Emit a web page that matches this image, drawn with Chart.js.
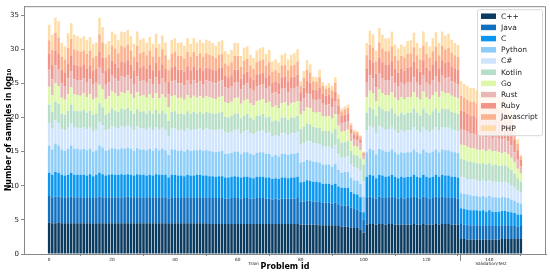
<!DOCTYPE html>
<html>
<head>
<meta charset="utf-8">
<title>Samples per problem</title>
<script src="https://cdn.jsdelivr.net/npm/chart.js@4.4.1/dist/chart.umd.min.js"></script>
<style>
  html, body { margin: 0; padding: 0; background: #fff; }
  #chart { display: block; }
</style>
</head>
<body>
<canvas id="chart" width="550" height="275"></canvas>
<script>
// log10 sample counts per language, one value per problem id (0..150)
const cpp = [
  4.6,4.5,4.5,4.6,4.5,4.5,4.5,4.5,4.5,4.5, 4.5,4.5,4.5,4.5,4.4,4.5,4.5,4.5,4.5,4.5,
  4.5,4.5,4.5,4.5,4.5,4.5,4.5,4.5,4.5,4.5, 4.5,4.5,4.5,4.5,4.5,4.5,4.5,4.5,4.4,4.5,
  4.5,4.5,4.5,4.5,4.5,4.5,4.5,4.5,4.5,4.5, 4.5,4.4,4.4,4.4,4.4,4.4,4.4,4.4,4.4,4.4,
  4.4,4.4,4.4,4.4,4.4,4.4,4.4,4.4,4.4,4.4, 4.4,4.4,4.4,4.4,4.4,4.4,4.4,4.4,4.4,4.4,
  4.3,4.3,4.3,4.3,4.3,4.3,4.2,4.2,4.2,4.2, 4.2,4.2,4.1,4.0,4.0,4.0,3.9,3.8,3.8,3.6,
  3.1,4.3,4.4,4.4,4.3,4.4,4.4,4.3,4.4,4.4, 4.3,4.3,4.3,4.3,4.3,4.3,4.4,4.3,4.3,4.4,
  4.3,4.3,4.3,4.4,4.3,4.4,4.4,4.4,4.3,4.3, 4.3,2.2,2.2,2.1,2.1,2.1,2.1,2.1,2.1,2.1,
  2.1,2.1,2.1,2.1,2.2,2.2,2.2,2.2,2.2,2.2,2.3
];
const java = [
  3.9,3.8,3.9,3.8,3.8,3.8,3.8,3.9,3.8,3.8, 3.8,3.8,3.7,3.8,3.8,3.8,3.9,3.8,3.8,3.8,
  3.8,3.8,3.8,3.8,3.8,3.9,3.8,3.8,3.8,3.8, 3.8,3.7,3.8,3.8,3.8,3.8,3.8,3.8,3.7,3.8,
  3.8,3.7,3.8,3.7,3.8,3.8,3.7,3.8,3.8,3.8, 3.8,3.8,3.8,3.8,3.8,3.8,3.7,3.7,3.8,3.8,
  3.8,3.7,3.8,3.8,3.7,3.7,3.8,3.8,3.8,3.7, 3.7,3.6,3.7,3.6,3.7,3.7,3.7,3.7,3.7,3.8,
  3.4,3.4,3.5,3.5,3.4,3.4,3.4,3.3,3.3,3.3, 3.2,3.3,3.2,3.1,3.1,3.1,2.9,2.8,2.7,2.6,
  1.9,3.9,4.0,3.9,3.8,4.0,3.9,3.9,3.9,4.0, 3.9,3.8,3.9,3.8,3.9,3.9,4.0,3.9,3.8,4.0,
  3.9,3.8,3.9,4.0,3.9,4.0,3.9,3.9,3.9,3.9, 3.8,2.2,2.1,2.1,2.1,2.1,2.1,2.0,2.1,2.0,
  2.1,2.0,2.0,2.0,2.0,2.0,2.0,1.9,1.9,1.8,1.8
];
const cLang = [
  3.4,3.3,3.6,3.5,3.3,3.2,3.3,3.5,3.3,3.3, 3.3,3.3,3.3,3.4,3.2,3.3,3.5,3.4,3.2,3.3,
  3.4,3.3,3.3,3.4,3.3,3.3,3.3,3.2,3.4,3.3, 3.3,3.3,3.3,3.2,3.4,3.3,3.3,3.3,3.1,3.3,
  3.3,3.3,3.2,3.2,3.3,3.2,3.3,3.3,3.3,3.2, 3.2,3.2,3.2,3.1,3.2,3.2,3.1,3.1,3.1,3.2,
  3.1,3.1,3.1,3.1,3.1,3.0,3.1,3.1,3.1,3.1, 3.1,3.0,3.0,3.0,3.1,3.1,3.0,3.1,3.1,3.1,
  2.8,2.9,3.0,2.9,2.9,2.9,2.9,2.8,2.8,2.8, 2.7,2.8,2.6,2.6,2.6,2.6,2.3,2.2,2.2,2.1,
  1.1,3.1,3.2,3.2,3.0,3.2,3.2,3.1,3.1,3.2, 3.1,3.0,3.1,3.1,3.1,3.1,3.2,3.1,3.1,3.2,
  3.1,3.1,3.1,3.2,3.1,3.2,3.2,3.2,3.1,3.1, 3.1,2.3,2.3,2.3,2.2,2.2,2.2,2.2,2.2,2.1,
  2.2,2.1,2.1,2.1,2.1,2.1,2.0,2.0,1.9,1.8,1.7
];
const python = [
  4.0,3.7,4.2,4.0,3.7,3.6,3.8,4.0,3.8,3.8, 3.7,3.8,3.7,3.7,3.6,3.6,4.0,3.9,3.6,3.7,
  3.8,3.8,3.7,3.8,3.8,3.9,3.8,3.6,3.8,3.7, 3.7,3.7,3.8,3.6,3.8,3.6,3.8,3.6,3.3,3.7,
  3.7,3.6,3.7,3.6,3.7,3.6,3.7,3.6,3.7,3.6, 3.7,3.7,3.6,3.6,3.6,3.7,3.5,3.5,3.5,3.6,
  3.7,3.4,3.6,3.6,3.5,3.4,3.5,3.6,3.6,3.5, 3.5,3.3,3.4,3.3,3.5,3.5,3.4,3.5,3.5,3.5,
  2.9,2.9,3.0,3.0,2.9,2.9,2.9,2.8,2.8,2.8, 2.7,2.9,2.4,2.2,2.3,2.3,2.1,2.0,2.0,2.0,
  2.3,3.6,3.8,3.7,3.5,3.8,3.7,3.7,3.6,3.7, 3.6,3.5,3.6,3.6,3.6,3.6,3.7,3.6,3.5,3.7,
  3.6,3.6,3.7,3.7,3.6,3.7,3.7,3.7,3.7,3.6, 3.6,2.2,2.2,2.2,2.2,2.1,2.1,2.1,2.1,2.1,
  2.1,2.1,2.1,2.0,2.0,2.0,2.0,1.9,1.8,1.7,1.6
];
const csharp = [
  3.3,3.1,3.4,3.3,3.0,3.0,3.1,3.3,3.1,3.1, 3.1,3.2,3.1,3.1,3.0,3.0,3.4,3.3,3.0,3.0,
  3.2,3.1,3.1,3.2,3.2,3.2,3.1,3.0,3.2,3.1, 3.1,3.0,3.1,3.0,3.1,3.0,3.1,3.0,2.8,3.1,
  3.1,3.0,3.0,3.0,3.1,3.0,3.1,3.0,3.1,3.0, 3.2,3.2,3.2,3.2,3.2,3.2,3.1,3.0,3.1,3.2,
  3.2,3.0,3.1,3.2,3.0,3.0,3.1,3.1,3.2,3.0, 3.1,2.9,2.9,2.9,3.0,3.0,2.9,3.0,3.0,3.1,
  2.6,2.7,2.8,2.8,2.7,2.7,2.7,2.6,2.6,2.6, 2.6,2.7,2.3,2.2,2.2,2.3,2.0,1.9,1.9,1.9,
  2.3,3.2,3.3,3.3,3.1,3.4,3.3,3.2,3.3,3.3, 3.2,3.1,3.2,3.1,3.2,3.2,3.3,3.2,3.1,3.3,
  3.2,3.1,3.2,3.3,3.2,3.3,3.3,3.3,3.2,3.2, 3.2,2.4,2.4,2.3,2.3,2.4,2.3,2.3,2.3,2.3,
  2.3,2.3,2.3,2.3,2.2,2.3,2.2,2.1,2.0,1.8,1.6
];
const kotlin = [
  2.7,2.4,2.7,2.8,2.3,2.3,2.5,2.7,2.5,2.4, 2.5,2.5,2.4,2.5,2.4,2.4,2.8,2.6,2.3,2.4,
  2.6,2.5,2.4,2.6,2.5,2.6,2.5,2.4,2.5,2.4, 2.5,2.4,2.5,2.4,2.5,2.4,2.5,2.4,2.2,2.4,
  2.5,2.4,2.4,2.4,2.5,2.4,2.5,2.4,2.4,2.4, 2.4,2.4,2.4,2.4,2.5,2.5,2.3,2.3,2.3,2.4,
  2.4,2.3,2.3,2.4,2.3,2.2,2.3,2.3,2.4,2.3, 2.3,2.2,2.2,2.2,2.3,2.3,2.2,2.3,2.3,2.3,
  2.3,2.4,2.5,2.5,2.4,2.3,2.4,2.3,2.3,2.3, 2.3,2.4,2.3,2.2,2.2,2.2,1.9,1.8,1.8,1.8,
  2.4,2.6,2.8,2.7,2.5,2.8,2.7,2.7,2.6,2.7, 2.5,2.5,2.6,2.5,2.6,2.6,2.7,2.6,2.5,2.7,
  2.6,2.5,2.7,2.7,2.6,2.7,2.7,2.7,2.6,2.6, 2.5,2.6,2.6,2.6,2.6,2.5,2.5,2.5,2.5,2.5,
  2.5,2.4,2.5,2.4,2.4,2.4,2.3,2.2,2.0,1.8,1.6
];
const go = [
  2.6,2.5,2.7,2.6,2.3,2.2,2.4,2.5,2.4,2.4, 2.3,2.4,2.3,2.4,2.3,2.3,2.7,2.6,2.3,2.4,
  2.5,2.5,2.3,2.4,2.5,2.5,2.4,2.3,2.5,2.3, 2.4,2.3,2.4,2.3,2.5,2.2,2.4,2.3,2.0,2.3,
  2.4,2.3,2.3,2.2,2.4,2.3,2.4,2.3,2.3,2.3, 2.3,2.3,2.2,2.2,2.3,2.3,2.1,2.1,2.1,2.2,
  2.3,2.1,2.2,2.2,2.1,2.1,2.2,2.2,2.2,2.1, 2.2,2.1,2.1,2.0,2.1,2.2,2.1,2.1,2.2,2.2,
  2.2,2.3,2.4,2.4,2.2,2.2,2.3,2.2,2.1,2.2, 2.1,2.2,1.9,1.6,1.6,1.7,1.4,1.3,1.3,1.2,
  0.8,2.3,2.4,2.4,2.2,2.5,2.4,2.4,2.4,2.4, 2.3,2.3,2.3,2.3,2.3,2.3,2.4,2.3,2.3,2.5,
  2.3,2.3,2.4,2.4,2.3,2.5,2.4,2.4,2.4,2.3, 2.3,2.1,2.1,2.1,2.0,2.1,2.0,2.0,2.0,2.0,
  2.0,2.0,2.0,2.0,1.9,1.9,1.9,1.8,1.6,1.4,1.2
];
const rust = [
  2.5,2.3,2.6,2.4,2.1,2.0,2.3,2.4,2.2,2.2, 2.2,2.2,2.1,2.2,2.1,2.2,2.5,2.4,2.1,2.1,
  2.3,2.3,2.2,2.3,2.3,2.3,2.2,2.1,2.3,2.2, 2.2,2.2,2.2,2.1,2.3,2.1,2.3,2.2,1.9,2.2,
  2.2,2.2,2.1,2.1,2.2,2.1,2.3,2.1,2.2,2.1, 2.3,2.3,2.3,2.3,2.3,2.3,2.2,2.1,2.2,2.3,
  2.3,2.1,2.2,2.3,2.1,2.1,2.2,2.2,2.2,2.1, 2.2,2.0,2.0,2.0,2.1,2.1,2.0,2.1,2.1,2.2,
  1.8,1.9,2.1,2.0,1.8,1.8,1.9,1.8,1.7,1.7, 1.7,1.8,1.6,1.3,1.3,1.3,1.1,1.0,1.0,1.0,
  0.5,2.1,2.3,2.2,2.0,2.3,2.2,2.2,2.2,2.3, 2.1,2.1,2.1,2.1,2.1,2.2,2.2,2.1,2.1,2.3,
  2.1,2.1,2.2,2.3,2.1,2.3,2.2,2.3,2.1,2.1, 2.1,2.2,2.2,2.2,2.1,2.1,2.1,2.1,2.1,2.0,
  2.1,2.0,2.0,2.0,2.0,2.0,1.9,1.8,1.5,1.3,1.0
];
const ruby = [
  2.3,2.1,2.2,2.3,2.0,1.9,2.2,2.3,2.1,2.1, 2.0,2.0,2.1,2.0,2.0,2.0,2.4,2.2,2.0,2.0,
  2.2,2.1,2.0,2.2,2.2,2.2,2.1,2.0,2.2,2.0, 2.0,2.0,2.1,2.0,2.1,2.0,2.1,2.0,1.8,2.0,
  2.0,2.0,2.0,2.0,2.0,2.0,2.0,2.0,2.0,2.0, 1.9,1.9,1.9,1.8,1.9,1.9,1.7,1.7,1.7,1.9,
  1.8,1.6,1.7,1.7,1.7,1.6,1.7,1.7,1.7,1.7, 1.7,1.6,1.6,1.6,1.7,1.7,1.6,1.7,1.7,1.7,
  1.4,1.6,1.8,1.7,1.5,1.5,1.7,1.5,1.4,1.4, 1.4,1.5,1.3,1.0,1.1,1.1,0.8,0.7,0.7,0.6,
  0.3,2.1,2.3,2.3,2.0,2.4,2.3,2.2,2.2,2.3, 2.1,2.0,2.0,2.0,2.2,2.2,2.3,2.1,2.0,2.3,
  2.2,2.0,2.2,2.3,2.1,2.3,2.2,2.3,2.2,2.1, 2.1,2.8,2.7,2.6,2.6,2.6,2.6,2.5,2.6,2.5,
  2.5,2.5,2.5,2.4,2.4,2.4,2.3,2.1,1.8,1.4,1.0
];
const javascript = [
  2.0,2.2,2.6,2.4,1.9,2.0,2.3,2.4,2.3,2.2, 2.2,2.1,2.1,2.2,2.0,1.9,2.5,2.3,2.0,2.0,
  2.2,2.2,2.1,2.3,2.2,2.3,2.1,2.0,2.3,2.1, 2.1,2.0,2.1,2.0,2.2,2.0,2.2,2.0,1.7,2.0,
  2.1,2.0,2.0,1.9,2.1,2.0,2.1,2.0,2.1,2.0, 2.1,2.0,2.0,1.9,2.0,2.0,1.8,1.7,1.9,2.0,
  2.0,1.7,1.9,1.9,1.7,1.6,1.8,1.9,1.9,1.7, 1.9,1.6,1.6,1.5,1.7,1.7,1.6,1.7,1.7,1.9,
  1.0,1.4,1.6,1.5,1.2,1.2,1.5,1.1,1.0,1.1, 1.1,1.3,1.0,0.7,0.8,0.8,0.5,0.4,0.4,0.4,
  0.2,1.9,2.1,2.1,1.8,2.2,2.0,2.0,2.0,2.1, 1.9,1.8,1.9,1.9,2.0,2.0,2.1,1.9,1.8,2.1,
  2.0,1.9,2.0,2.1,1.9,2.1,2.0,2.0,2.0,1.9, 1.9,2.2,2.1,2.1,2.1,2.1,2.1,2.0,2.0,2.0,
  2.0,2.0,2.0,2.0,1.9,1.9,1.8,1.6,1.3,0.9,0.5
];
const php = [
  2.3,2.2,2.2,2.4,2.0,1.9,2.1,2.3,2.1,2.1, 2.0,2.1,2.0,2.0,2.0,2.0,2.4,2.2,2.0,2.0,
  2.1,2.1,2.0,2.1,2.2,2.1,2.1,1.9,2.1,2.0, 2.0,1.9,2.0,1.9,2.1,1.9,2.0,1.9,1.6,2.0,
  2.0,1.9,2.0,1.9,2.0,1.9,2.0,2.0,2.0,2.0, 2.0,2.0,1.9,1.8,1.9,2.0,1.8,1.7,1.8,1.9,
  1.9,1.6,1.9,1.8,1.6,1.6,1.7,1.8,1.8,1.7, 1.8,1.5,1.6,1.5,1.6,1.7,1.6,1.6,1.7,1.8,
  0.6,1.0,1.4,1.2,0.7,0.7,1.1,0.6,0.5,0.6, 0.6,0.8,0.7,0.4,0.4,0.5,0.3,0.3,0.2,0.2,
  0.1,1.8,2.1,2.0,1.6,2.1,2.0,1.9,1.9,2.2, 1.7,1.7,1.7,1.7,1.9,1.9,2.1,1.8,1.7,2.1,
  1.8,1.7,1.9,2.1,1.8,2.1,2.0,2.1,1.9,1.8, 1.7,2.1,2.0,2.0,2.0,2.0,1.9,1.8,1.9,1.8,
  1.8,1.7,1.8,1.7,1.7,1.7,1.6,1.4,1.0,0.7,0.2
];

const languages = ['C++', 'Java', 'C', 'Python', 'C#', 'Kotlin', 'Go', 'Rust', 'Ruby', 'Javascript', 'PHP'];
const series = [cpp, java, cLang, python, csharp, kotlin, go, rust, ruby, javascript, php];
const colors = ['#0b3a5f', '#106fbf', '#0a97f0', '#8ccdf9', '#d0e5fd', '#b7dec6',
                '#dcf8a8', '#e9b8b6', '#f19487', '#fdb28f', '#fedda9'];

const problemIds = cpp.map((_, i) => i);
const xTickValues = [0, 20, 40, 60, 80, 100, 120, 140];
const yTickValues = [0, 5, 10, 15, 20, 25, 30, 35];
// split between the train problems and the validation/test problems
const splitAt = 130.5;
const splitLabels = [{ text: 'Train', at: 65 }, { text: 'Validation/Test', at: 140.5 }];

const FONT = 'DejaVu Sans';
const AXIS_GREY = '#888';

// top/right frame, the split marker and its labels, and the legend inside the plot
const extras = {
  id: 'extras',
  afterDraw(chart) {
    const { ctx, chartArea: area, scales: { x } } = chart;
    ctx.save();

    ctx.strokeStyle = AXIS_GREY;
    ctx.lineWidth = 1;
    ctx.beginPath();
    ctx.moveTo(area.left, area.top + 0.5);
    ctx.lineTo(area.right - 0.5, area.top + 0.5);
    ctx.lineTo(area.right - 0.5, area.bottom);
    ctx.stroke();

    const sx = Math.round(x.getPixelForValue(splitAt)) + 0.5;
    ctx.beginPath();
    ctx.moveTo(sx, area.bottom);
    ctx.lineTo(sx, area.bottom + 7);
    ctx.stroke();

    ctx.fillStyle = '#222';
    ctx.font = `4.3px "${FONT}"`;
    ctx.textAlign = 'center';
    ctx.textBaseline = 'middle';
    splitLabels.forEach(l => ctx.fillText(l.text, x.getPixelForValue(l.at), area.bottom + 10));

    // legend
    const lx = area.right - 69, ly = area.top + 3, lw = 65, lh = 126;
    ctx.fillStyle = 'rgba(255,255,255,0.8)';
    ctx.strokeStyle = '#d8d8d8';
    ctx.beginPath();
    if (ctx.roundRect) ctx.roundRect(lx + 0.5, ly + 0.5, lw, lh, 2);
    else ctx.rect(lx + 0.5, ly + 0.5, lw, lh);
    ctx.fill();
    ctx.stroke();

    ctx.font = `7.5px "${FONT}"`;
    ctx.textAlign = 'left';
    chart.data.datasets.forEach((ds, i) => {
      const cy = ly + 7 + i * 11.2;
      ctx.fillStyle = ds.backgroundColor;
      ctx.fillRect(lx + 4, cy - 2.75, 15, 5.5);
      ctx.fillStyle = '#222';
      ctx.fillText(ds.label, lx + 24, cy + 0.5);
    });
    ctx.restore();
  }
};

new Chart(document.getElementById('chart'), {
  type: 'bar',
  data: {
    labels: problemIds,
    datasets: languages.map((name, i) => ({
      label: name,
      data: series[i],
      backgroundColor: colors[i],
      borderWidth: 0,
      barPercentage: 0.8,
      categoryPercentage: 1.0
    }))
  },
  options: {
    responsive: false,
    animation: false,
    devicePixelRatio: 1,
    layout: { padding: { top: 4, right: 4, left: 0, bottom: 0 } },
    plugins: { legend: { display: false }, tooltip: { enabled: false } },
    scales: {
      x: {
        type: 'linear',
        offset: false,
        stacked: true,
        min: -8,
        max: 158,
        afterFit: s => { s.height = 21; },
        afterBuildTicks: s => { s.ticks = xTickValues.map(v => ({ value: v })); },
        grid: { drawOnChartArea: false, drawTicks: true, tickLength: 2, color: AXIS_GREY },
        border: { display: true, color: AXIS_GREY },
        ticks: { font: { family: FONT, size: 4.3 }, color: '#222', padding: 1, maxRotation: 0 },
        title: {
          display: true,
          text: 'Problem id',
          font: { family: FONT, size: 8, weight: 'bold' },
          color: '#000',
          padding: { top: 0, bottom: 3.5 }
        }
      },
      y: {
        stacked: true,
        min: 0,
        max: 36.3,
        afterFit: s => { s.width = 24; },
        afterBuildTicks: s => { s.ticks = yTickValues.map(v => ({ value: v })); },
        grid: { drawOnChartArea: false, drawTicks: true, tickLength: 3, color: AXIS_GREY },
        border: { display: true, color: AXIS_GREY },
        ticks: { font: { family: FONT, size: 7 }, color: '#222', padding: 2 },
        title: {
          display: true,
          text: 'Number of samples in log₁₀',
          font: { family: FONT, size: 8, weight: 'bold' },
          color: '#000',
          padding: { top: 4, bottom: 0 }
        }
      }
    }
  },
  plugins: [extras]
});
</script>
</body>
</html>
